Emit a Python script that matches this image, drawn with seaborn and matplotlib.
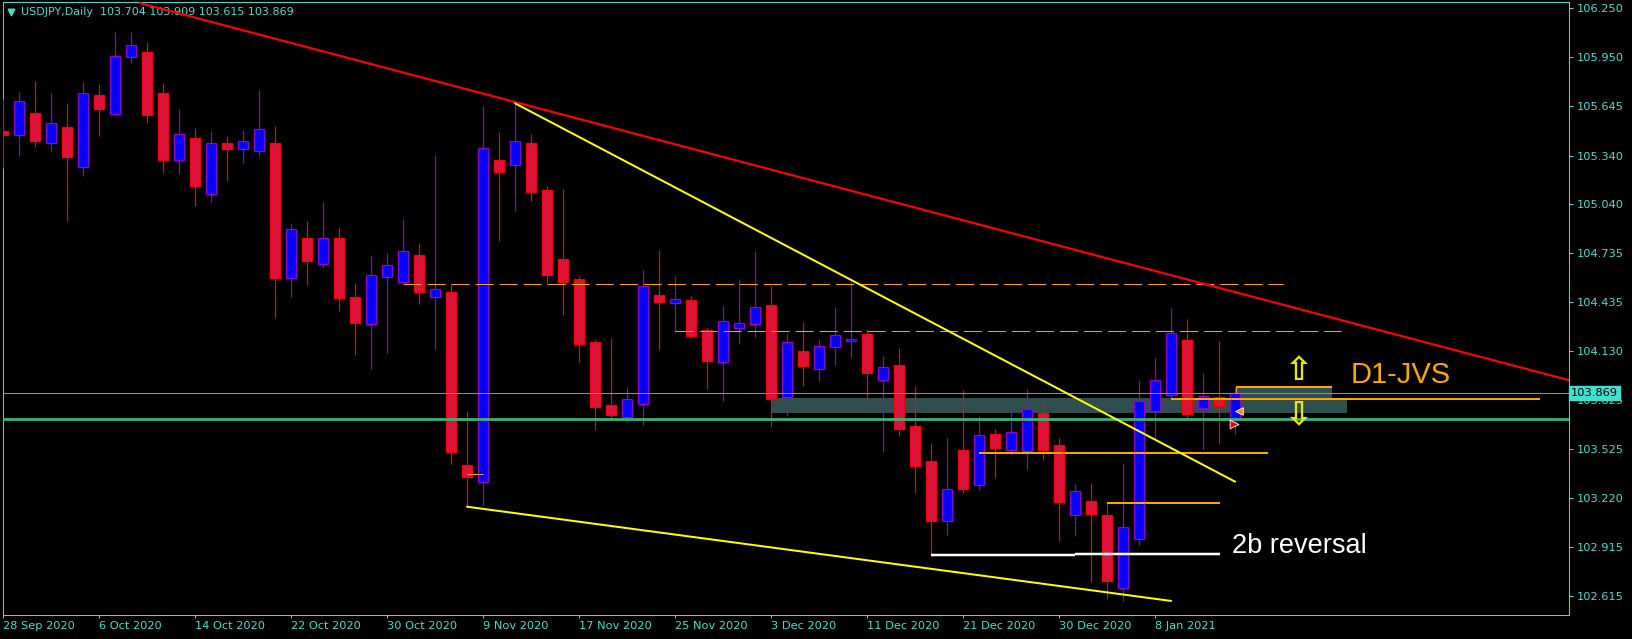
import numpy as np
import pandas as pd
import matplotlib
matplotlib.use('Agg')
import matplotlib.pyplot as plt
import matplotlib.transforms as mtransforms
import seaborn as sns

# USDJPY daily candles, bar 0 = 28 Sep 2020 ... bar 77 = 15 Jan 2021
opens = [105.490, 105.465, 105.602, 105.416, 105.515, 105.267, 105.713, 105.595, 105.948, 105.981,
         105.725, 105.314, 105.447, 105.100, 105.416, 105.379, 105.366, 105.416, 104.580, 104.828,
         104.667, 104.828, 104.463, 104.296, 104.590, 104.559, 104.723, 104.463, 104.494, 103.425,
         103.322, 105.311, 105.283, 105.416, 105.127, 104.698, 104.574, 104.186, 103.795, 103.724,
         103.801, 104.475, 104.426, 104.446, 104.261, 104.061, 104.275, 104.300, 104.413, 103.844,
         104.129, 104.021, 104.157, 104.191, 104.234, 103.949, 104.042, 103.665, 103.448, 103.077,
         103.516, 103.300, 103.615, 103.520, 103.514, 103.745, 103.549, 103.114, 103.202, 103.116,
         102.662, 102.969, 103.759, 103.856, 104.199, 103.776, 103.844, 103.704]
highs = [105.690, 105.733, 105.801, 105.727, 105.663, 105.795, 105.783, 106.103, 106.103, 106.043,
         105.789, 105.628, 105.511, 105.492, 105.461, 105.498, 105.746, 105.523, 104.921, 104.935,
         105.053, 104.896, 104.550, 104.723, 104.735, 104.947, 104.797, 105.342, 104.543, 103.759,
         105.647, 105.484, 105.663, 105.472, 105.152, 105.133, 104.595, 104.203, 104.211, 103.906,
         104.632, 104.756, 104.595, 104.471, 104.277, 104.409, 104.576, 104.749, 104.533, 104.242,
         104.310, 104.205, 104.405, 104.559, 104.265, 104.100, 104.147, 103.914, 103.560, 103.592,
         103.889, 103.727, 103.646, 103.766, 103.894, 103.819, 103.592, 103.309, 103.314, 103.192,
         103.438, 103.951, 104.087, 104.399, 104.329, 103.996, 104.193, 103.909]
lows = [105.262, 105.339, 105.395, 105.370, 104.937, 105.215, 105.463, 105.590, 105.913, 105.541,
        105.232, 105.228, 105.030, 105.055, 105.183, 105.296, 105.339, 104.337, 104.467, 104.539,
        104.646, 104.378, 104.106, 104.019, 104.120, 104.543, 104.421, 104.143, 103.433, 103.167,
        103.178, 104.813, 104.999, 105.059, 104.550, 104.353, 104.064, 103.644, 103.712, 103.693,
        103.673, 104.137, 104.250, 104.213, 103.894, 103.823, 104.176, 104.219, 103.662, 103.730,
        103.916, 103.947, 104.046, 104.089, 103.817, 103.507, 103.603, 103.254, 102.862, 102.994,
        103.250, 103.270, 103.347, 103.489, 103.396, 103.458, 102.957, 102.988, 102.703, 102.598,
        102.584, 102.930, 103.585, 103.838, 103.714, 103.520, 103.557, 103.615]
closes = [105.470, 105.676, 105.432, 105.540, 105.333, 105.725, 105.626, 105.954, 106.022, 105.593,
          105.314, 105.472, 105.154, 105.416, 105.379, 105.428, 105.502, 104.580, 104.884, 104.689,
          104.828, 104.460, 104.301, 104.599, 104.661, 104.748, 104.498, 104.512, 103.507, 103.353,
          105.385, 105.240, 105.428, 105.116, 104.601, 104.559, 104.176, 103.786, 103.736, 103.832,
          104.535, 104.436, 104.451, 104.225, 104.071, 104.314, 104.302, 104.401, 103.835, 104.184,
          104.040, 104.160, 104.228, 104.203, 103.996, 104.030, 103.646, 103.417, 103.081, 103.275,
          103.279, 103.609, 103.532, 103.628, 103.770, 103.520, 103.198, 103.262, 103.124, 102.709,
          103.040, 103.819, 103.949, 104.240, 103.743, 103.854, 103.792, 103.869]

date_tick_bars = [0, 6, 12, 18, 24, 30, 36, 42, 48, 54, 60, 66, 72]
date_labels = ['28 Sep 2020', '6 Oct 2020', '14 Oct 2020', '22 Oct 2020', '30 Oct 2020',
               '9 Nov 2020', '17 Nov 2020', '25 Nov 2020', '3 Dec 2020', '11 Dec 2020',
               '21 Dec 2020', '30 Dec 2020', '8 Jan 2021']
price_ticks = [106.250, 105.950, 105.645, 105.340, 105.040, 104.735, 104.435,
               104.130, 103.825, 103.525, 103.220, 102.915, 102.615]

# trend lines (bar, price)
red_line_bars = [8.58, 97.9]
red_line_prices = [106.283, 103.949]
yellow_top_bars = [32, 77]
yellow_top_prices = [105.663, 103.322]
yellow_low_bars = [29, 73]
yellow_low_prices = [103.167, 102.584]

# horizontal levels: price, first bar, last bar
dashed_levels = [(104.543, 25, 80), (104.252, 42, 83.6)]
orange_levels = [(103.501, 61, 79.06), (103.192, 69, 76.06), (103.910, 77.06, 83.04),
                 (103.834, 73, 96.03)]
white_levels = [(102.866, 58, 67), (102.874, 67, 76.06)]
zones = [(103.749, 103.842, 48.03, 83.98), (103.834, 103.910, 77.06, 83.04)]
support_price = 103.708
bid_price = 103.869

FG = '#40E0D0'
BULL_FILL, BULL_EDGE = '#0000FF', '#9400D3'
BEAR_FILL, BEAR_EDGE = '#DC143C', '#FF0000'
PX = 0.72  # one pixel in points


def main():
    sns.set_style('dark', {'axes.facecolor': 'black', 'figure.facecolor': 'black'})
    plt.rcParams['font.family'] = ['DejaVu Sans']
    plt.rcParams['lines.scale_dashes'] = False

    fig = plt.figure(figsize=(16.33, 6.39), dpi=100)
    ax = fig.add_axes([2.7 / 1633, 1 - 615 / 639, 1566.8 / 1633, 613 / 639])
    ax.set_facecolor('black')

    df = pd.DataFrame({'open': opens, 'high': highs, 'low': lows, 'close': closes})
    df['bar'] = np.arange(len(df))
    up = df['close'] >= df['open']

    # zones behind the candles
    for lo, hi, b0, b1 in zones:
        ax.fill_between([b0, b1], lo, hi, color='#2F4F4F', lw=0, zorder=1)

    for mask, fill, edge in [(up, BULL_FILL, BULL_EDGE), (~up, BEAR_FILL, BEAR_EDGE)]:
        d = df[mask]
        ax.vlines(d['bar'], d['low'], d['high'], color=edge, lw=1.2 * PX, zorder=3)
        body = (d['close'] - d['open']).abs().clip(lower=0.004)
        ax.bar(d['bar'], body, bottom=d[['open', 'close']].min(axis=1), width=0.6,
               color=fill, edgecolor=edge, linewidth=1.2 * PX, zorder=4)

    # horizontal levels
    ax.axhline(support_price, color='#3CB371', lw=2.8 * PX, zorder=5)
    ax.axhline(bid_price, color='#909090', lw=PX, zorder=5)
    for p, b0, b1 in dashed_levels:
        ax.plot([b0, b1], [p, p], color='#FFA500', lw=PX, linestyle=(0, (13, 4.3)), zorder=5)
    for p, b0, b1 in orange_levels:
        ax.hlines(p, b0, b1, color='#FFA500', lw=2 * PX, zorder=6)
    ax.vlines(77.06, 103.869, 103.910, color='#FFA500', lw=PX, zorder=6)
    ax.hlines(103.368, 29, 30, color='#FFA500', lw=PX, zorder=6)
    for p, b0, b1 in white_levels:
        ax.hlines(p, b0, b1, color='white', lw=2.5 * PX, zorder=6)

    # trend lines
    sns.lineplot(x=red_line_bars, y=red_line_prices, color='#FF0000', lw=2.2 * PX, ax=ax, zorder=7)
    sns.lineplot(x=yellow_top_bars, y=yellow_top_prices, color='#FFFF00', lw=2 * PX, ax=ax, zorder=7)
    sns.lineplot(x=yellow_low_bars, y=yellow_low_prices, color='#FFFF00', lw=2 * PX, ax=ax, zorder=7)

    # trade markers on the last bar
    ax.scatter([77.25], [103.761], marker='<', s=30, color='#FF8C00', edgecolor='white', lw=0.6, zorder=9)
    ax.scatter([76.95], [103.677], marker='>', s=40, color='#FF0000', edgecolor='white', lw=0.6, zorder=9)

    # annotations
    ax.text(81.0, 104.012, '\u21e7', color='#E8E800', fontsize=24, fontweight='bold',
            ha='center', va='center', zorder=8)
    ax.text(81.0, 103.737, '\u21e9', color='#E8E800', fontsize=24, fontweight='bold',
            ha='center', va='center', zorder=8)
    ax.text(84.2, 103.982, 'D1-JVS', color='#FFA500', fontsize=21, family='Liberation Sans',
            ha='left', va='center', zorder=8)
    ax.text(76.8, 102.924, '2b reversal', color='white', fontsize=19.5, family='Liberation Sans',
            ha='left', va='center', zorder=8)

    # title
    ax.scatter([0.0053], [0.9835], marker='v', s=22, color=FG, transform=ax.transAxes, zorder=2)
    ax.text(18.3 / 1566.8, 0.9835, 'USDJPY,Daily  103.704 103.909 103.615 103.869',
            color=FG, fontsize=8, va='center', ha='left', transform=ax.transAxes, zorder=2)

    # axes
    ax.set_xlim(-0.02, 97.9)
    ax.set_ylim(102.497, 106.290)
    ax.yaxis.tick_right()
    ax.set_yticks(price_ticks)
    ax.set_yticklabels(['%.3f' % t for t in price_ticks])
    ax.set_xticks(date_tick_bars)
    ax.set_xticklabels(date_labels, ha='left')
    ax.tick_params(axis='y', colors=FG, labelsize=8.2, length=4 * PX, width=PX, pad=3 * PX, right=True, left=False)
    ax.tick_params(axis='x', colors=FG, labelsize=8.2, length=3 * PX, width=PX, pad=3 * PX, bottom=True)
    ax.grid(False)
    for s in ax.spines.values():
        s.set_visible(True)
        s.set_color(FG)
        s.set_linewidth(PX)

    trans = mtransforms.blended_transform_factory(ax.transAxes, ax.transData)
    ax.text(1.0008, bid_price, '103.869', transform=trans, color='black', fontsize=8.2,
            ha='left', va='center', zorder=10,
            bbox=dict(boxstyle='square,pad=0.18', fc=FG, ec=FG))

    fig.savefig('out.png', dpi=100, facecolor='black')


if __name__ == '__main__':
    main()
